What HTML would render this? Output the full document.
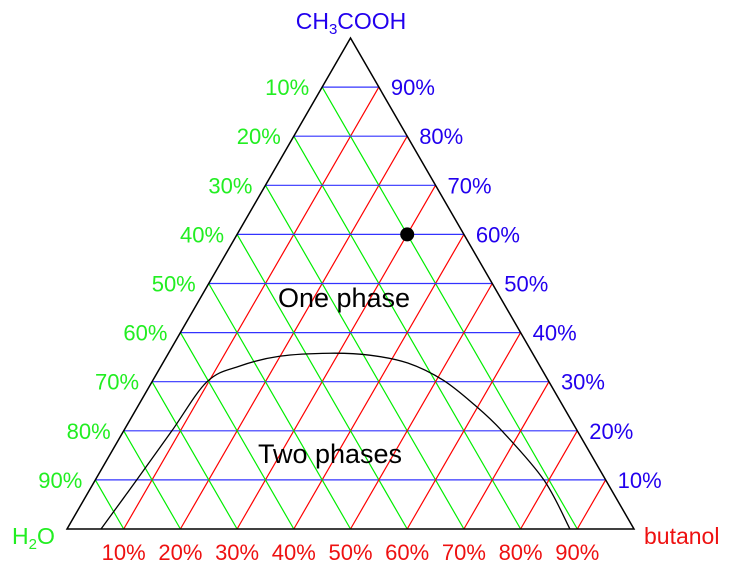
<!DOCTYPE html>
<html><head><meta charset="utf-8"><style>
body{margin:0;background:#fff}
svg{display:block;font-family:"Liberation Sans",sans-serif}
</style></head><body>
<svg id="chart" width="737" height="576" viewBox="0 0 737 576">
<g id="grid"></g>
<g id="labels"></g>
<polygon points="67,529 634,529 350.5,38" fill="none" stroke="#000" stroke-width="1.5"/>
<path id="binodal" fill="none" stroke="#000" stroke-width="1.3"/>
<circle id="dot" r="7" fill="#000"/>
<text x="344" y="307" font-size="27" text-anchor="middle">One phase</text>
<text x="330" y="463" font-size="27" text-anchor="middle">Two phases</text>
<text x="351" y="29" font-size="23" fill="#2200ee" text-anchor="middle">CH<tspan font-size="15" dy="5">3</tspan><tspan dy="-5">COOH</tspan></text>
<text x="12" y="544" font-size="23" fill="#22ee22">H<tspan font-size="15" dy="5">2</tspan><tspan dy="-5">O</tspan></text>
<text x="644" y="544" font-size="23" fill="#ee1111">butanol</text>
</svg>
<script>
const ticks=[1,2,3,4,5,6,7,8,9];
const tickLabels=["10%","20%","30%","40%","50%","60%","70%","80%","90%"];
const curveButanol=[0.060,0.073,0.085,0.097,0.139,0.200,0.285,0.357,0.432,0.512,0.592,0.667,0.791,0.887];
const curveAcetic=[0,0.1,0.2,0.3,0.332,0.352,0.358,0.354,0.338,0.303,0.253,0.2,0.1,0];
const pointAcetic=[0.6];
const pointButanol=[0.3];
const X0=67,Y0=529,W=567,H=491;
function px(b,a){return X0+W*(b+a/2);}
function py(b,a){return Y0-H*a;}
const ns="http://www.w3.org/2000/svg";
const grid=document.getElementById('grid'),labs=document.getElementById('labels');
function line(x1,y1,x2,y2,c,name){const l=document.createElementNS(ns,'line');
l.setAttribute('x1',x1);l.setAttribute('y1',y1);l.setAttribute('x2',x2);l.setAttribute('y2',y2);
l.setAttribute('stroke',c);l.setAttribute('stroke-width',1.2);


grid.appendChild(l);}
function txt(x,y,s,c,anchor,name){const t=document.createElementNS(ns,'text');
t.setAttribute('x',x);t.setAttribute('y',y);t.setAttribute('fill',c);t.setAttribute('font-size',22);t.setAttribute('text-anchor',anchor);t.textContent=s;


labs.appendChild(t);}
ticks.forEach((k,i)=>{const f=k/10;
 line(px(0,f),py(0,f),px(1-f,f),py(1-f,f),'#3333ff','acetic-gridline');
 line(px(f,0),py(f,0),px(f,1-f),py(f,1-f),'#ff0000','butanol-gridline');
 line(px(0,1-f),py(0,1-f),px(1-f,0),py(1-f,0),'#00ee00','water-gridline');
 txt(px(f,0),560,tickLabels[i],'#ee1111','middle','butanol-tick-label');
 txt(px(1-f,f)+12,py(1-f,f)+8,tickLabels[i],'#2200ee','start','acetic-tick-label');
 txt(px(0,1-f)-13,py(0,1-f)+8,tickLabels[i],'#22ee22','end','water-tick-label');
});
const P=curveButanol.map((b,i)=>[px(b,curveAcetic[i]),py(b,curveAcetic[i])]);
let d='M'+P[0][0]+','+P[0][1];
for(let i=0;i<P.length-1;i++){const p0=P[Math.max(i-1,0)],p1=P[i],p2=P[i+1],p3=P[Math.min(i+2,P.length-1)];
 d+=' C'+(p1[0]+(p2[0]-p0[0])/6)+','+(p1[1]+(p2[1]-p0[1])/6)+' '+(p2[0]-(p3[0]-p1[0])/6)+','+(p2[1]-(p3[1]-p1[1])/6)+' '+p2[0]+','+p2[1];}
document.getElementById('binodal').setAttribute('d',d);
const dot=document.getElementById('dot');
dot.setAttribute('cx',px(pointButanol[0],pointAcetic[0]));dot.setAttribute('cy',py(pointButanol[0],pointAcetic[0]));
</script>
</body></html>
